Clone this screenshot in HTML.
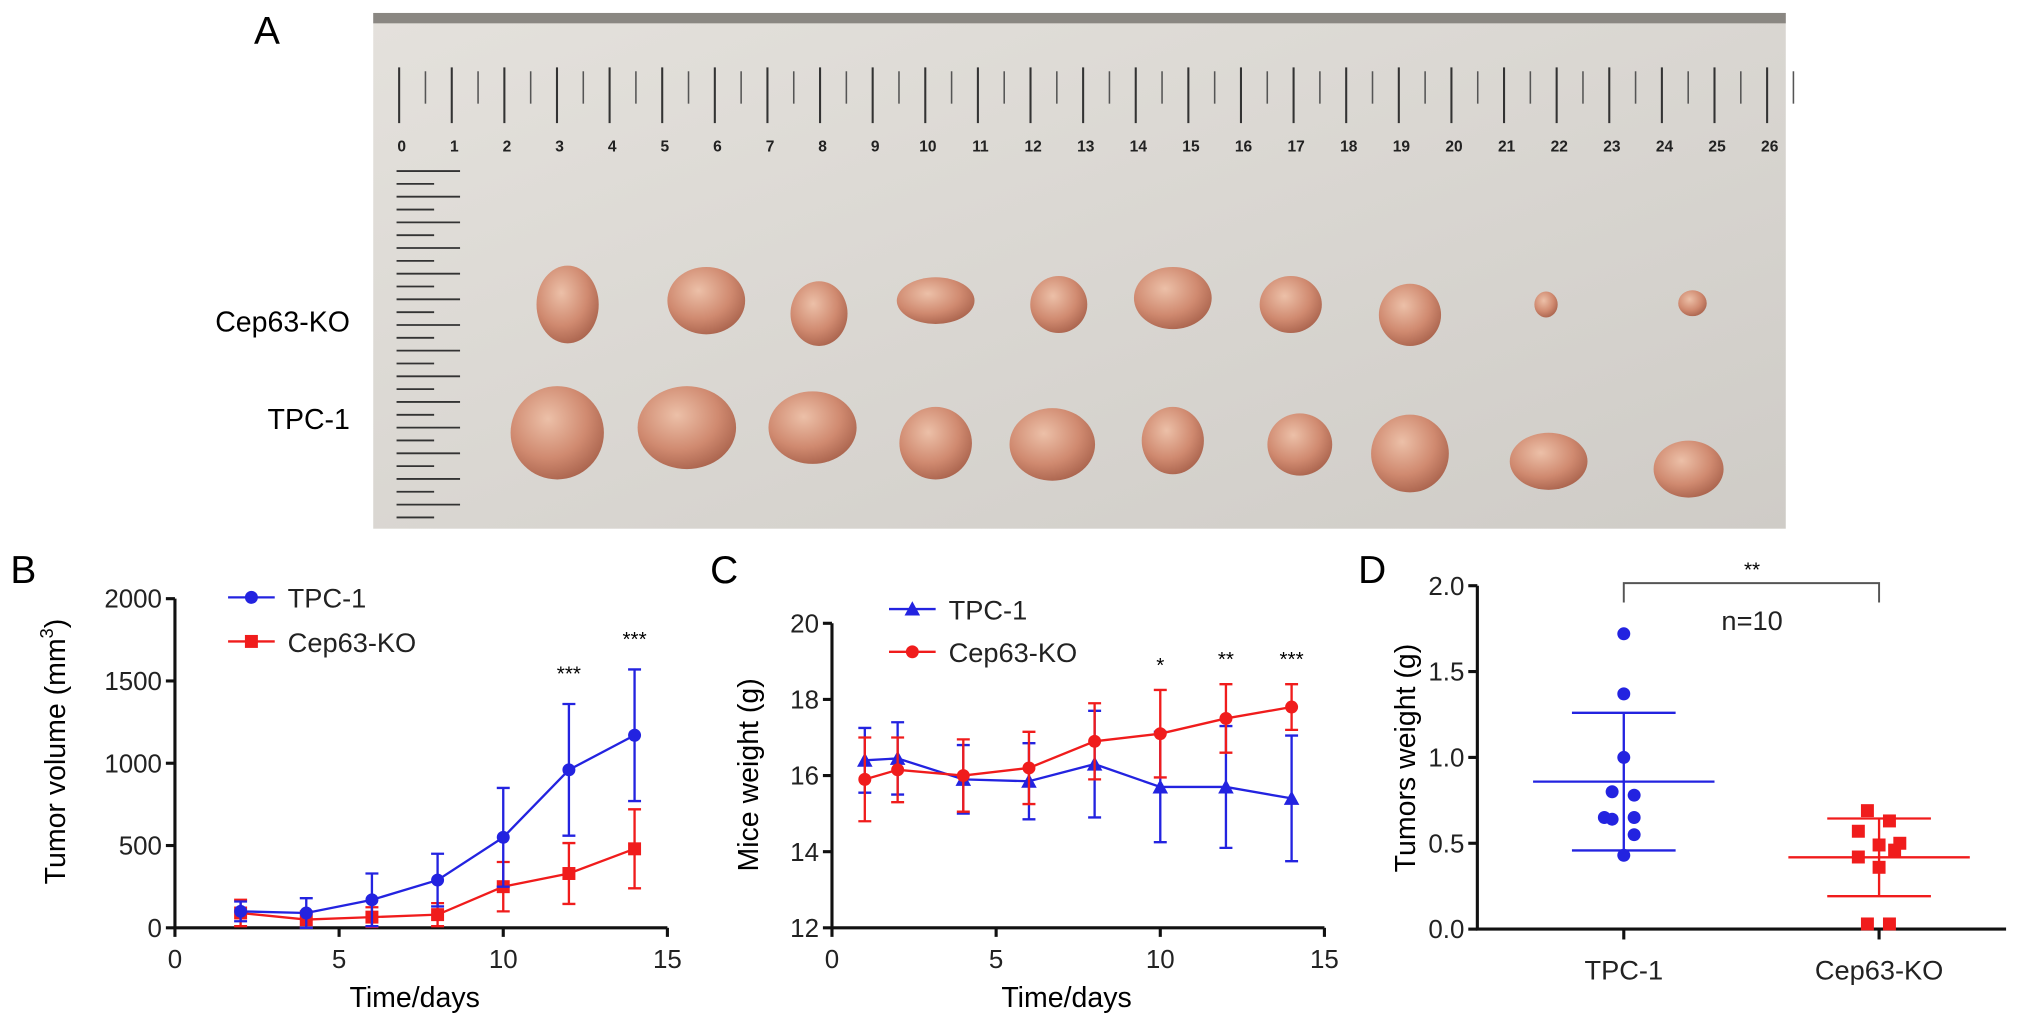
<!DOCTYPE html>
<html><head><meta charset="utf-8"><style>
html,body{margin:0;padding:0;background:#fff;}
svg{display:block;font-family:"Liberation Sans",Arial,sans-serif;}
</style></head><body>
<svg id="fig" width="2032" height="1025" viewBox="0 0 1568 791" preserveAspectRatio="none">
<defs>
<radialGradient id="tum" cx="40%" cy="35%" r="70%"><stop offset="0" stop-color="#ecc0a8"/><stop offset="0.6" stop-color="#d08a70"/><stop offset="1" stop-color="#a8624c"/></radialGradient>
<linearGradient id="paper" x1="0" y1="0" x2="1" y2="1"><stop offset="0" stop-color="#e4e1dc"/><stop offset="1" stop-color="#cfccc7"/></linearGradient>
</defs>
<g id="panelA">
<rect x="288" y="10" width="1090" height="398" fill="url(#paper)"/>
<rect x="288" y="10" width="1090" height="8" fill="#8a8782"/>
<g id="rulerTop"></g>
<g id="rulerLeft"></g>
<g id="tumors"></g>
</g>
<text x="196" y="34" font-size="30">A</text>
<text x="270" y="256" font-size="22" text-anchor="end">Cep63-KO</text>
<text x="270" y="331" font-size="22" text-anchor="end">TPC-1</text>
<g id="panelB"></g>
<g id="panelC"></g>
<g id="panelD"></g>
</svg>
<script>
// Panel B data
const bDays=[2,4,6,8,10,12,14];
const bTpc=[100,90,170,290,550,960,1170];
const bTpcErr=[60,90,160,160,300,400,400];
const bKo=[90,50,65,80,250,330,480];
const bKoErr=[80,50,60,70,150,185,240];
const bTicksY=[0,500,1000,1500,2000];
const bTicksX=[0,5,10,15];
const bStars=[{d:12,s:"***"},{d:14,s:"***"}];
// Panel C data
const cDays=[1,2,4,6,8,10,12,14];
const cTpc=[16.4,16.45,15.9,15.85,16.3,15.7,15.7,15.4];
const cTpcErr=[0.85,0.95,0.9,1.0,1.4,1.45,1.6,1.65];
const cKo=[15.9,16.15,16.0,16.2,16.9,17.1,17.5,17.8];
const cKoErr=[1.1,0.85,0.95,0.95,1.0,1.15,0.9,0.6];
const cTicksY=[12,14,16,18,20];
const cTicksX=[0,5,10,15];
const cStars=[{d:10,s:"*"},{d:12,s:"**"},{d:14,s:"***"}];
// Panel D data
const dCats=["TPC-1","Cep63-KO"];
const dTpc=[1.72,1.37,1.0,0.8,0.78,0.65,0.64,0.65,0.55,0.43];
const dTpcJit=[0,0,0,-9,8,-15,-9,8,8,0];
const dKo=[0.69,0.63,0.57,0.49,0.50,0.46,0.42,0.36,0.03,0.03];
const dKoJit=[-9,8,-16,0,16,12,-16,0,-9,8];
const dTicksY=[0.0,0.5,1.0,1.5,2.0];
const dTicksLbl=["0.0","0.5","1.0","1.5","2.0"];

const NS="http://www.w3.org/2000/svg";
function mk(p,t,a,txt){const e=document.createElementNS(NS,t);for(const k in a)e.setAttribute(k,a[k]);if(txt!==undefined)e.textContent=txt;p.appendChild(e);return e;}
const BLUE="#2323e0",RED="#f01c1c";

// Photo
(function(){
 const rt=document.getElementById('rulerTop');
 for(let i=0;i<=26;i++){const x=308+i*40.6;
  const l=mk(rt,'line',{x1:x,y1:52,x2:x,y2:95,stroke:'#333','stroke-width':1.6});
  
  
  const h=mk(rt,'line',{x1:x+20.3,y1:55,x2:x+20.3,y2:80,stroke:'#555','stroke-width':1.2});
  
  
  const t=mk(rt,'text',{x:x+2,y:117,'font-size':12,'font-weight':'bold','text-anchor':'middle',fill:'#222'},String(i));
  
  
 }
 const rl=document.getElementById('rulerLeft');
 for(let i=0;i<28;i++){const y=132+i*9.9;const big=i%2===0;
  const l=mk(rl,'line',{x1:306,y1:y,x2:big?355:335,y2:y,stroke:'#333','stroke-width':1.4});
  
  
 }
 const tg=document.getElementById('tumors');
 const ko=[[438,235,24,30],[545,232,30,26],[632,242,22,25],[722,232,30,18],[817,235,22,22],[905,230,30,24],[996,235,24,22],[1088,243,24,24],[1193,235,9,10],[1306,234,11,10]];
 const tp=[[430,334,36,36],[530,330,38,32],[627,330,34,28],[722,342,28,28],[812,343,33,28],[905,340,24,26],[1003,343,25,24],[1088,350,30,30],[1195,356,30,22],[1303,362,27,22]];
 ko.concat(tp).forEach(q=>{const e=mk(tg,'ellipse',{cx:q[0],cy:q[1],rx:q[2],ry:q[3],fill:'url(#tum)'});
  
  });
})();

function errBar(g,x,y1,y2,col,cap){
 const l=mk(g,'path',{d:`M${x},${y1}V${y2}M${x-cap},${y1}H${x+cap}M${x-cap},${y2}H${x+cap}`,stroke:col,'stroke-width':1.8,fill:'none'});
 
 
}
function marker(g,shape,x,y,col){
 let e;
 if(shape==='circle')e=mk(g,'circle',{cx:x,cy:y,r:5,fill:col});
 else if(shape==='square')e=mk(g,'rect',{x:x-5,y:y-5,width:10,height:10,fill:col});
 else e=mk(g,'path',{d:`M${x},${y-6}L${x+6},${y+5}L${x-6},${y+5}Z`,fill:col});
 
 
}
function axesXY(g,x0,x1,y0,y1,ticksX,sx,ticksY,sy,lblY){
 const ax=mk(g,'path',{d:`M${x0},${y1}V${y0}H${x1}`,stroke:'#111','stroke-width':2.4,fill:'none'});
 
 
 ticksY.forEach((v,i)=>{const y=sy(v);mk(g,'line',{x1:x0-7,y1:y,x2:x0,y2:y,stroke:'#111','stroke-width':2.4});
  const t=mk(g,'text',{x:x0-10,y:y+7,'font-size':20,'text-anchor':'end',fill:'#222'},lblY?lblY[i]:String(v));
  
  });
 ticksX.forEach(v=>{const x=sx(v);mk(g,'line',{x1:x,y1:y0,x2:x,y2:y0+7,stroke:'#111','stroke-width':2.4});
  const t=mk(g,'text',{x:x,y:y0+31,'font-size':20,'text-anchor':'middle',fill:'#222'},String(v));
  
  });
}
function series(g,days,vals,errs,sx,sy,col,shape,name){
 const sg=mk(g,'g',{});
 
 
 days.forEach((d,i)=>errBar(sg,sx(d),sy(vals[i]+errs[i]),sy(vals[i]-errs[i]),col,5));
 const ln=mk(sg,'polyline',{points:days.map((d,i)=>sx(d)+','+sy(vals[i])).join(' '),stroke:col,'stroke-width':1.8,fill:'none'});
 
 
 days.forEach((d,i)=>marker(sg,shape,sx(d),sy(vals[i]),col));
}
function legend(g,x,y,col,shape,label){
 const lg=mk(g,'g',{});
 
 
 mk(lg,'line',{x1:x,y1:y,x2:x+36,y2:y,stroke:col,'stroke-width':1.8});
 marker(lg,shape,x+18,y,col);
 mk(lg,'text',{x:x+46,y:y+8,'font-size':21,fill:'#222'},label);
}

// Panel B
(function(){
 const g=document.getElementById('panelB');
 const x0=135,x1=515,y0=716,y1=462;
 const sx=d=>x0+(d/15)*(x1-x0), sy=v=>y0-(v/2000)*(y0-y1);
 mk(g,'text',{x:8,y:450,'font-size':30},'B');
 axesXY(g,x0,x1,y0,y1,bTicksX,sx,bTicksY,sy);
 const syc=v=>Math.min(sy(v),y0);
 series(g,bDays,bKo,bKoErr,sx,syc,RED,'square','series-cep63-ko');
 series(g,bDays,bTpc,bTpcErr,sx,syc,BLUE,'circle','series-tpc-1');
 bStars.forEach(s=>{const i=bDays.indexOf(s.d);const t=mk(g,'text',{x:sx(s.d),y:sy(bTpc[i]+bTpcErr[i])-18,'font-size':16,'text-anchor':'middle'},s.s);
  
  });
 legend(g,176,461,BLUE,'circle','TPC-1');
 legend(g,176,495,RED,'square','Cep63-KO');
 const xt=mk(g,'text',{x:320,y:777,'font-size':22,'text-anchor':'middle'},'Time/days');
 
 
 const yt=mk(g,'text',{x:0,y:0,'font-size':22,'text-anchor':'middle',transform:'translate(50,580) rotate(-90)'});
 
 
 yt.innerHTML='Tumor volume (mm<tspan font-size="14" dy="-9">3</tspan><tspan dy="9">)</tspan>';
})();

// Panel C
(function(){
 const g=document.getElementById('panelC');
 const x0=642,x1=1022,y0=716,y1=481;
 const sx=d=>x0+(d/15)*(x1-x0), sy=v=>y0-((v-12)/8)*(y0-y1);
 mk(g,'text',{x:548,y:450,'font-size':30},'C');
 axesXY(g,x0,x1,y0,y1,cTicksX,sx,cTicksY,sy);
 series(g,cDays,cTpc,cTpcErr,sx,sy,BLUE,'triangle','series-tpc-1');
 series(g,cDays,cKo,cKoErr,sx,sy,RED,'circle','series-cep63-ko');
 cStars.forEach(s=>{const i=cDays.indexOf(s.d);const t=mk(g,'text',{x:sx(s.d),y:sy(Math.max(cKo[i]+cKoErr[i],cTpc[i]+cTpcErr[i]))-14,'font-size':16,'text-anchor':'middle'},s.s);
  
  });
 legend(g,686,470,BLUE,'triangle','TPC-1');
 legend(g,686,503,RED,'circle','Cep63-KO');
 const xt=mk(g,'text',{x:823,y:777,'font-size':22,'text-anchor':'middle'},'Time/days');
 
 
 const yt=mk(g,'text',{x:0,y:0,'font-size':22,'text-anchor':'middle',transform:'translate(585,598) rotate(-90)'},'Mice weight (g)');
 
 
})();

// Panel D
(function(){
 const g=document.getElementById('panelD');
 const x0=1140,x1=1548,y0=717,y1=452;
 const cx=[1253,1450];
 const sy=v=>y0-(v/2)*(y0-y1);
 mk(g,'text',{x:1048,y:450,'font-size':30},'D');
 const ax=mk(g,'path',{d:`M${x0},${y1}V${y0}H${x1}`,stroke:'#111','stroke-width':2.4,fill:'none'});
 
 
 dTicksY.forEach((v,i)=>{const y=sy(v);mk(g,'line',{x1:x0-7,y1:y,x2:x0,y2:y,stroke:'#111','stroke-width':2.4});
  const t=mk(g,'text',{x:x0-10,y:y+7,'font-size':20,'text-anchor':'end',fill:'#222'},dTicksLbl[i]);
  
  });
 dCats.forEach((c,i)=>{mk(g,'line',{x1:cx[i],y1:y0,x2:cx[i],y2:y0+8,stroke:'#111','stroke-width':2.4});
  const t=mk(g,'text',{x:cx[i],y:y0+39,'font-size':21,'text-anchor':'middle',fill:'#222'},c);
  
  });
 [[dTpc,dTpcJit,BLUE,'circle'],[dKo,dKoJit,RED,'square']].forEach((s,gi)=>{
  const vals=s[0],jit=s[1],col=s[2],x=cx[gi];
  const mean=vals.reduce((a,b)=>a+b,0)/vals.length;
  const sd=Math.sqrt(vals.reduce((a,b)=>a+(b-mean)*(b-mean),0)/(vals.length-1));
  const sg=mk(g,'g',{});
  
  
  mk(sg,'line',{x1:x-70,y1:sy(mean),x2:x+70,y2:sy(mean),stroke:col,'stroke-width':1.8});
  mk(sg,'path',{d:`M${x},${sy(mean+sd)}V${sy(mean-sd)}M${x-40},${sy(mean+sd)}H${x+40}M${x-40},${sy(mean-sd)}H${x+40}`,stroke:col,'stroke-width':1.8,fill:'none'});
  vals.forEach((v,i)=>marker(sg,s[3],x+jit[i],sy(v),col));
 });
 const br=mk(g,'path',{d:`M${cx[0]},465V450H${cx[1]}V465`,stroke:'#555','stroke-width':1.5,fill:'none'});
 
 
 const st=mk(g,'text',{x:1352,y:445,'font-size':16,'text-anchor':'middle'},'**');
 
 
 const n=mk(g,'text',{x:1352,y:486,'font-size':21,'text-anchor':'middle',fill:'#222'},'n=10');
 
 
 const yt=mk(g,'text',{x:0,y:0,'font-size':22,'text-anchor':'middle',transform:'translate(1092,585) rotate(-90)'},'Tumors weight (g)');
 
 
})();
</script>
</body></html>
